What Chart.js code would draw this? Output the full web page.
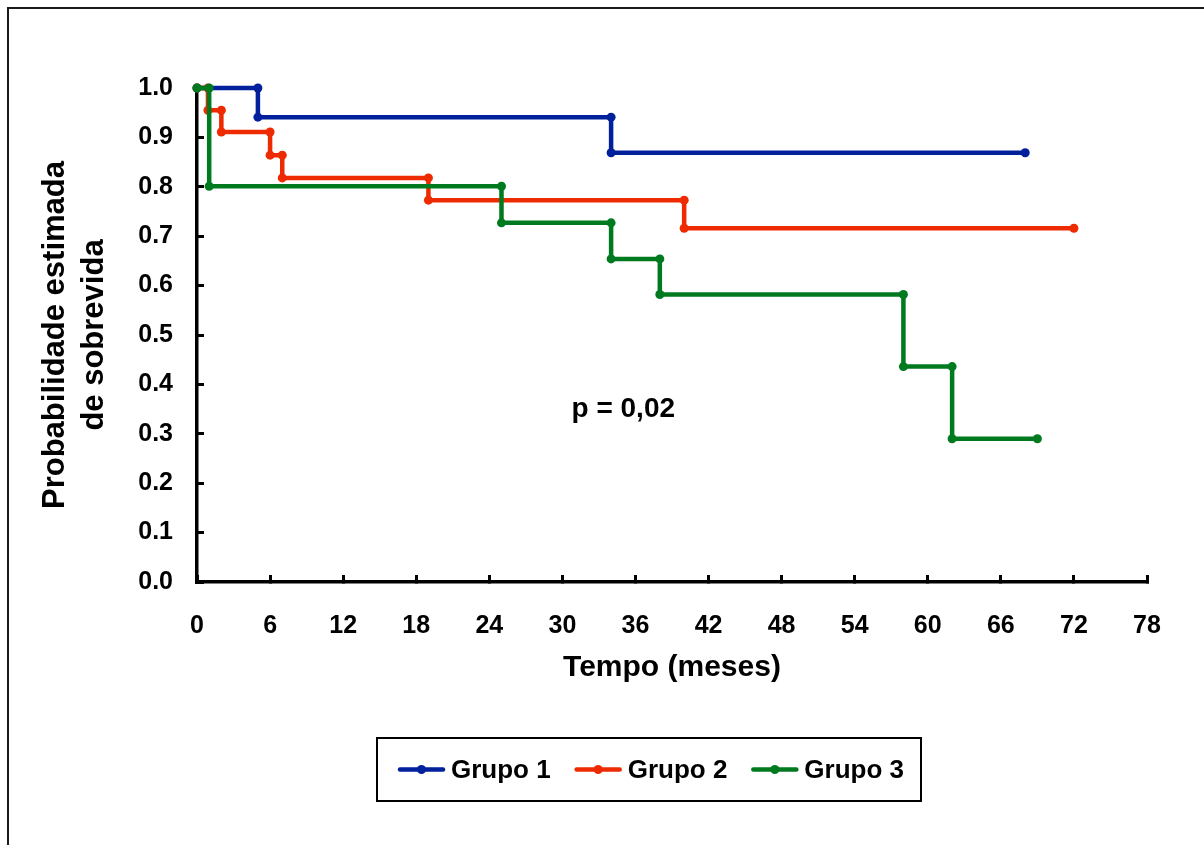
<!DOCTYPE html>
<html>
<head>
<meta charset="utf-8">
<script src="https://cdn.jsdelivr.net/npm/chart.js@4.4.1/dist/chart.umd.min.js"></script>
<style>
  html, body { margin: 0; padding: 0; background: #fff; }
  #wrap { position: relative; width: 1204px; height: 845px; overflow: hidden; }
</style>
</head>
<body>
<div id="wrap"><canvas id="c" width="1204" height="845"></canvas></div>
<script>
// ---- data (Kaplan-Meier steps: time of change, survival after change) ----
const groupLabels = ['Grupo 1', 'Grupo 2', 'Grupo 3'];
const g1Times = [0, 5, 34, 68];
const g1Surv  = [1.0, 0.941, 0.869, 0.869];
const g2Times = [0, 0.9, 2, 6, 7, 19, 40, 72];
const g2Surv  = [1.0, 0.955, 0.911, 0.864, 0.818, 0.773, 0.716, 0.716];
const g3Times = [0, 1, 25, 34, 38, 58, 62, 69];
const g3Surv  = [1.0, 0.801, 0.727, 0.654, 0.582, 0.436, 0.290, 0.290];
const xTickValues = [0, 6, 12, 18, 24, 30, 36, 42, 48, 54, 60, 66, 72, 78];
const yTickLabels = ['0.0','0.1','0.2','0.3','0.4','0.5','0.6','0.7','0.8','0.9','1.0'];
const pText = 'p = 0,02';
const pPos = { x: 35, y: 0.35 };

const colors = ['#00209c', '#ee2a00', '#007a1e'];
const FONT = "'Liberation Sans', Arial, sans-serif";

function steps(times, surv) {
  const pts = [];
  for (let i = 0; i < times.length; i++) {
    if (i === 0) { pts.push({ x: times[0], y: surv[0] }); continue; }
    pts.push({ x: times[i], y: surv[i - 1] });
    if (surv[i] !== surv[i - 1]) pts.push({ x: times[i], y: surv[i] });
  }
  return pts;
}

const series = [steps(g1Times, g1Surv), steps(g2Times, g2Surv), steps(g3Times, g3Surv)];

const frameAndExtras = {
  id: 'frameAndExtras',
  beforeDraw(chart) {
    const ctx = chart.ctx;
    ctx.save();
    ctx.fillStyle = '#fff';
    ctx.fillRect(0, 0, chart.width, chart.height);
    ctx.strokeStyle = '#1a1a1a';
    ctx.lineWidth = 2;
    ctx.beginPath();
    ctx.moveTo(8, chart.height + 5);
    ctx.lineTo(8, 8);
    ctx.lineTo(chart.width + 5, 8);
    ctx.stroke();
    ctx.restore();
  },
  afterDraw(chart) {
    const ctx = chart.ctx;
    const xs = chart.scales.x, ys = chart.scales.y;
    ctx.save();
    // p-value annotation
    ctx.fillStyle = '#000';
    ctx.font = "bold 28px " + FONT;
    ctx.textAlign = 'center';
    ctx.textBaseline = 'middle';
    ctx.fillText(pText, xs.getPixelForValue(pPos.x), ys.getPixelForValue(pPos.y));

    // legend box
    const bx = 377, by = 738, bw = 544, bh = 63;
    ctx.strokeStyle = '#000';
    ctx.lineWidth = 2;
    ctx.strokeRect(bx, by, bw, bh);
    ctx.font = "bold 26px " + FONT;
    ctx.textAlign = 'left';
    ctx.textBaseline = 'middle';
    let cx = bx + 23;
    const cy = by + bh / 2;
    chart.data.datasets.slice().sort((a, b) => a.legendIndex - b.legendIndex).forEach(ds => {
      ctx.strokeStyle = ds.borderColor;
      ctx.lineWidth = 4.5;
      ctx.lineCap = 'round';
      ctx.beginPath();
      ctx.moveTo(cx, cy);
      ctx.lineTo(cx + 43, cy);
      ctx.stroke();
      ctx.fillStyle = ds.borderColor;
      ctx.beginPath();
      ctx.arc(cx + 21.5, cy, 4.5, 0, Math.PI * 2);
      ctx.fill();
      ctx.fillStyle = '#000';
      ctx.fillText(ds.label, cx + 51, cy + 1);
      const w = ctx.measureText(ds.label).width;
      cx += 51 + w + 26;
    });
    ctx.restore();
  }
};

const datasets = series.map((pts, i) => ({
  label: groupLabels[i],
  legendIndex: i,
  data: pts,
  borderColor: colors[i],
  backgroundColor: colors[i],
  pointBackgroundColor: colors[i],
  pointBorderWidth: 0,
  pointRadius: 4.5,
  borderWidth: 4.5,
  borderJoinStyle: 'miter',
  fill: false,
  tension: 0,
  clip: 6,
  order: 3 - i
}));

new Chart(document.getElementById('c'), {
  type: 'line',
  data: { datasets },
  plugins: [frameAndExtras],
  options: {
    responsive: false,
    animation: false,
    devicePixelRatio: 1,
    layout: { padding: { top: 88, right: 57, left: 0, bottom: 0 } },
    plugins: { legend: { display: false }, tooltip: { enabled: false } },
    scales: {
      x: {
        type: 'linear',
        min: 0, max: 78,
        afterFit(scale) { scale.height = 263; },
        afterBuildTicks(scale) { scale.ticks = xTickValues.map(v => ({ value: v })); },
        border: { display: true, color: '#000', width: 3.5 },
        grid: { drawOnChartArea: false, drawTicks: true, tickLength: -7, color: '#000', lineWidth: 3 },
        ticks: {
          color: '#000', padding: 36, maxRotation: 0, autoSkip: false,
          font: { family: FONT, size: 25, weight: 'bold' },
          callback: v => String(v)
        },
        title: {
          display: true, text: 'Tempo (meses)', color: '#000',
          font: { family: FONT, size: 30, weight: 'bold', lineHeight: 1.2 },
          padding: { top: 0, bottom: 159 }
        }
      },
      y: {
        min: 0, max: 1,
        afterFit(scale) { scale.width = 197; },
        afterBuildTicks(scale) { scale.ticks = yTickLabels.map((l, i) => ({ value: i / 10 })); },
        border: { display: true, color: '#000', width: 3.5 },
        grid: { drawOnChartArea: false, drawTicks: true, tickLength: -7, color: '#000', lineWidth: 3 },
        ticks: {
          color: '#000', padding: 31, autoSkip: false,
          font: { family: FONT, size: 25, weight: 'bold' },
          callback: (v, i) => yTickLabels[Math.round(v * 10)]
        },
        title: {
          display: true, text: ['Probabilidade estimada', 'de sobrevida'], color: '#000',
          font: { family: FONT, size: 31, weight: 'bold', lineHeight: 1.25 },
          padding: { top: 36, bottom: 0 }
        }
      }
    }
  }
});
</script>
</body>
</html>
